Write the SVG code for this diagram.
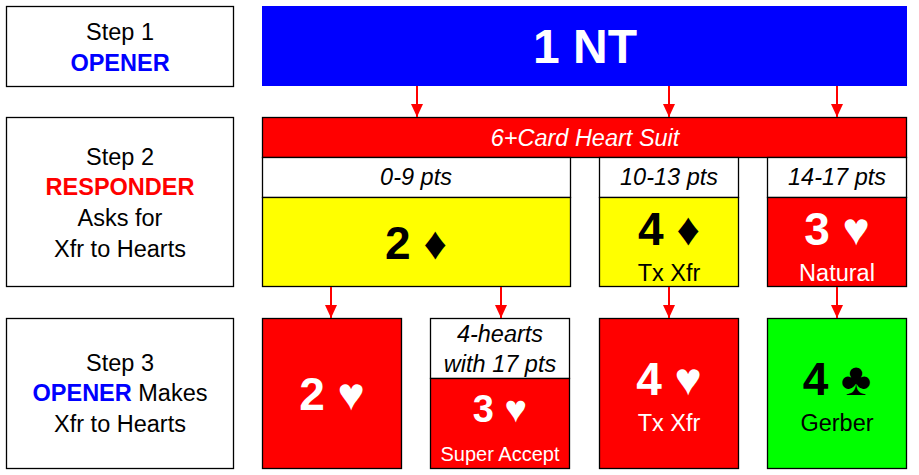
<svg xmlns="http://www.w3.org/2000/svg" width="919" height="475" viewBox="0 0 919 475">
<defs>
<style>
text{font-family:"Liberation Sans",Arial,sans-serif;text-anchor:middle}
.box{stroke:#000;stroke-width:1.3}
.step{font-size:23.5px}
.blk{fill:#000}
.blue{fill:#0000ff;font-weight:bold}
.red{fill:#ff0000;font-weight:bold}
.lbl{font-size:23.5px;font-style:italic;fill:#000}
.big{font-size:46px;font-weight:bold}
.sub{font-size:23.5px}
.w{fill:#fff}
.k{fill:#000}
.conn line{stroke:#ff0000;stroke-width:2;marker-end:url(#ah)}
</style>
<marker id="ah" markerUnits="userSpaceOnUse" markerWidth="13" markerHeight="12" refX="13" refY="6" orient="auto" viewBox="0 0 13 12">
<path d="M0,0 L13,6 L0,12 Z" fill="#ff0000"/>
</marker>
</defs>
<rect width="919" height="475" fill="#fff"/>

<g id="step1">
<rect class="box" x="6.5" y="6.5" width="227" height="80" fill="#fff"/>
<text class="step blk" x="120" y="40">Step 1</text>
<text class="step blue" x="120" y="71">OPENER</text>
</g>
<g id="step2">
<rect class="box" x="6.5" y="117.5" width="227" height="169" fill="#fff"/>
<text class="step blk" x="120" y="164.5">Step 2</text>
<text class="step red" x="120" y="195">RESPONDER</text>
<text class="step blk" x="120" y="226">Asks for</text>
<text class="step blk" x="120" y="257">Xfr to Hearts</text>
</g>
<g id="step3">
<rect class="box" x="6.5" y="318.5" width="227" height="150" fill="#fff"/>
<text class="step blk" x="120" y="371">Step 3</text>
<text class="step blk" x="120" y="401"><tspan class="blue">OPENER</tspan> Makes</text>
<text class="step blk" x="120" y="432">Xfr to Hearts</text>
</g>

<g id="opener-1nt">
<rect x="262" y="6" width="645" height="80" fill="#0000ff"/>
<text x="585" y="63" font-size="48" font-weight="bold" fill="#fff">1 NT</text>
</g>

<g id="heart-suit">
<rect class="box" x="262.5" y="117.5" width="644" height="40" fill="#ff0000"/>
<text class="w" x="585" y="145.5" font-size="23.5" font-style="italic">6+Card Heart Suit</text>
</g>

<g id="resp-2d">
<rect class="box" x="262.5" y="157.5" width="308" height="40" fill="#fff"/>
<text class="lbl" x="416" y="185">0-9 pts</text>
<rect class="box" x="262.5" y="197.5" width="308" height="89" fill="#ffff00"/>
<text class="big k" x="416" y="259">2 ♦</text>
</g>

<g id="resp-4d">
<rect class="box" x="599.5" y="157.5" width="139" height="40" fill="#fff"/>
<text class="lbl" x="669" y="185">10-13 pts</text>
<rect class="box" x="599.5" y="197.5" width="139" height="89" fill="#ffff00"/>
<text class="big k" x="669" y="245">4 ♦</text>
<text class="sub k" x="669" y="281">Tx Xfr</text>
</g>

<g id="resp-3h">
<rect class="box" x="767.5" y="157.5" width="139" height="40" fill="#fff"/>
<text class="lbl" x="837" y="185">14-17 pts</text>
<rect class="box" x="767.5" y="197.5" width="139" height="89" fill="#ff0000"/>
<text class="big w" x="837" y="245">3 ♥</text>
<text class="sub w" x="837" y="281">Natural</text>
</g>

<g id="open-2h">
<rect class="box" x="262.5" y="318.5" width="139" height="150" fill="#ff0000"/>
<text class="big w" x="332" y="410">2 ♥</text>
</g>

<g id="open-3h">
<rect class="box" x="430.5" y="318.5" width="139" height="60" fill="#fff"/>
<text class="lbl" x="500" y="342">4-hearts</text>
<text class="lbl" x="500" y="372">with 17 pts</text>
<rect class="box" x="430.5" y="378.5" width="139" height="90" fill="#ff0000"/>
<text class="w" x="500" y="422" font-size="38" font-weight="bold">3 ♥</text>
<text class="w" x="500" y="461" font-size="20">Super Accept</text>
</g>

<g id="open-4h">
<rect class="box" x="599.5" y="318.5" width="139" height="150" fill="#ff0000"/>
<text class="big w" x="669" y="395">4 ♥</text>
<text class="sub w" x="669" y="431">Tx Xfr</text>
</g>

<g id="resp-4c">
<rect class="box" x="767.5" y="318.5" width="139" height="150" fill="#00ff00"/>
<text class="big k" x="837" y="395">4 ♣</text>
<text class="sub k" x="837" y="431">Gerber</text>
</g>

<g id="connectors" class="conn">
<line x1="417" y1="86" x2="417" y2="117"/>
<line x1="669" y1="86" x2="669" y2="117"/>
<line x1="837" y1="86" x2="837" y2="117"/>
<line x1="331" y1="287" x2="331" y2="318"/>
<line x1="501" y1="287" x2="501" y2="318"/>
<line x1="669" y1="287" x2="669" y2="318"/>
<line x1="837" y1="287" x2="837" y2="318"/>
</g>
</svg>
